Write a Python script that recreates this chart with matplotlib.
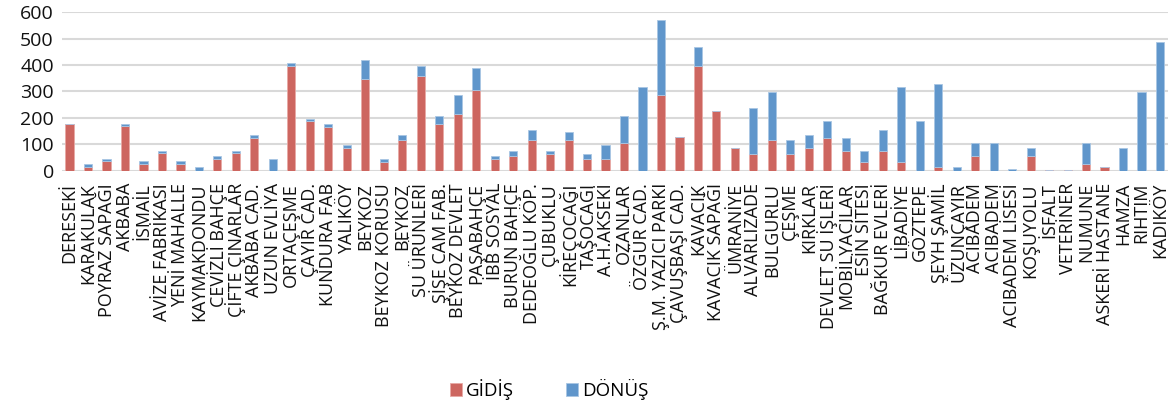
import matplotlib
matplotlib.use("Agg")
import matplotlib.pyplot as plt
import numpy as np

plt.rcParams['font.family'] = ['Open Sans', 'DejaVu Sans']

categories = ["DERESEKİ", "KARAKULAK", "POYRAZ SAPAĞI", "AKBABA", "İSMAİL",
              "AVİZE FABRİKASI", "YENİ MAHALLE", "KAYMAKDONDU", "CEVİZLİ BAHÇE",
              "ÇİFTE ÇINARLAR", "AKBABA CAD.", "UZUN EVLİYA", "ORTAÇEŞME",
              "ÇAYIR CAD.", "KUNDURA FAB", "YALIKÖY", "BEYKOZ", "BEYKOZ KORUSU",
              "BEYKOZ", "SU ÜRÜNLERİ", "ŞİŞE CAM FAB.", "BEYKOZ DEVLET",
              "PAŞABAHÇE", "İBB SOSYAL", "BURUN BAHÇE", "DEDEOĞLU KÖP.",
              "ÇUBUKLU", "KİREÇOCAĞI", "TAŞOCAĞI", "A.H.AKSEKİ", "OZANLAR",
              "ÖZGÜR CAD.", "Ş.M. YAZICI PARKI", "ÇAVUŞBAŞI CAD.", "KAVACIK",
              "KAVACIK SAPAĞI", "ÜMRANİYE", "ALVARLIZADE", "BULGURLU", "ÇEŞME",
              "KIRKLAR", "DEVLET SU İŞLERİ", "MOBİLYACILAR", "ESİN SİTESİ",
              "BAĞKUR EVLERİ", "LİBADİYE", "GÖZTEPE", "ŞEYH ŞAMİL", "ÜZUNÇAYIR",
              "ACIBADEM", "ACIBADEM", "ACIBADEM LİSESİ", "KOŞUYOLU", "İSFALT",
              "VETERİNER", "NUMUNE", "ASKERİ HASTANE", "HAMZA", "RIHTIM", "KADIKÖY"]

gidis = [176, 15, 35, 168, 25, 65, 25, 0, 45, 65, 125, 0, 398, 186, 165, 85, 347, 34,
         115, 357, 175, 216, 307, 44, 54, 115, 64, 115, 44, 44, 105, 0, 287, 126, 398,
         226, 86, 64, 115, 64, 85, 125, 74, 34, 74, 34, 0, 14, 0, 54, 0, 0, 54, 3,
         3, 24, 14, 0, 0, 0]

donus = [2, 10, 10, 10, 10, 10, 10, 14, 11, 10, 10, 44, 10, 10, 10, 10, 71, 10,
         20, 40, 32, 71, 81, 12, 20, 40, 10, 30, 20, 51, 101, 317, 282, 0, 70,
         0, 0, 172, 182, 51, 50, 61, 51, 40, 81, 283, 186, 313, 14, 51, 105, 4, 31, 0,
         0, 81, 0, 85, 297, 489]

red = '#CD6660'
blue = '#6096CB'

fig = plt.figure(figsize=(11.73, 4.08), dpi=100)
ax = fig.add_axes([0.053, 0.582, 0.943, 0.388])

x = np.arange(len(categories))
w = 0.44
ax.bar(x, gidis, w, color=red, edgecolor='#E8A9A5', linewidth=0.6, label='GİDİŞ', zorder=3)
ax.bar(x, donus, w, bottom=gidis, color=blue, edgecolor='#A9C6E3', linewidth=0.6, label='DÖNÜŞ', zorder=3)

ax.set_ylim(0, 600)
ax.set_xlim(-0.4, len(categories) - 0.55)
ax.set_yticks(range(0, 601, 100))
ax.yaxis.grid(True, color='#D9D9D9', linewidth=1.5, zorder=0)
ax.set_axisbelow(True)
for s in ['top', 'right', 'left', 'bottom']:
    ax.spines[s].set_visible(False)
ax.set_xticks(x)
ax.set_xticklabels(categories, rotation=90, fontsize=13, color='#111111')
ax.tick_params(axis='x', length=0, pad=9)
ax.tick_params(axis='y', length=0, pad=6, labelsize=14, labelcolor='#111111')

fig.legend(loc='center', bbox_to_anchor=(0.468, 0.045), ncol=2, frameon=False,
           fontsize=13.5, handlelength=0.65, handleheight=0.65, handletextpad=0.2,
           columnspacing=2.8)

fig.savefig('out.png', dpi=100)
